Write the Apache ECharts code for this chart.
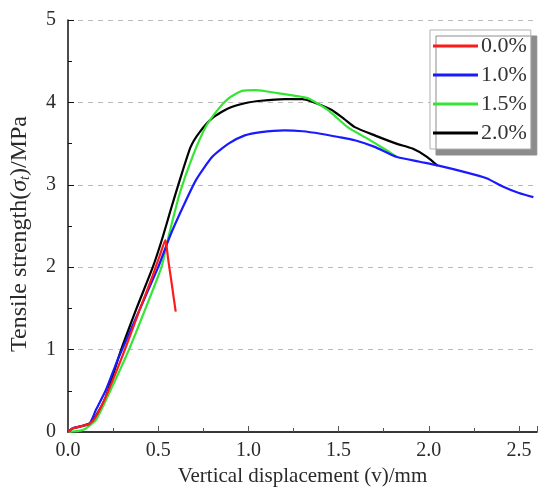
<!DOCTYPE html>
<html>
<head>
<meta charset="utf-8">
<script src="https://cdn.jsdelivr.net/npm/echarts@6/dist/echarts.min.js"></script>
<style>html,body{margin:0;padding:0;background:#fff}#c{width:540px;height:492px}</style>
</head>
<body>
<div id="c"></div>
<script>
var seriesNames = ['0.0%', '1.0%', '1.5%', '2.0%'];
var seriesColors = ['#ff1a1a', '#1a1aff', '#33e633', '#000000'];
var xTicks = [0, 0.5, 1.0, 1.5, 2.0, 2.5];
var yTicks = [0, 1, 2, 3, 4, 5];

var red = [[0,0],[0.027,0.045],[0.064,0.065],[0.119,0.10],[0.15,0.17],[0.21,0.43],[0.31,0.97],[0.40,1.5],[0.47,1.9],[0.51,2.15],[0.54,2.33],[0.555,2.1],[0.575,1.8],[0.597,1.46]];
var blue = [[0,0],[0.027,0.045],[0.064,0.065],[0.119,0.10],[0.155,0.27],[0.21,0.51],[0.274,0.87],[0.30,1.0],[0.40,1.5],[0.50,2.0],[0.564,2.37],[0.637,2.73],[0.71,3.06],[0.80,3.34],[0.89,3.50],[0.98,3.60],[1.07,3.64],[1.2,3.66],[1.3,3.65],[1.40,3.62],[1.5,3.58],[1.59,3.54],[1.70,3.46],[1.82,3.34],[1.95,3.28],[2.06,3.23],[2.19,3.16],[2.32,3.08],[2.41,2.98],[2.50,2.90],[2.58,2.85]];
var green = [[0,0],[0.04,0.01],[0.075,0.02],[0.10,0.045],[0.155,0.146],[0.228,0.47],[0.338,1.0],[0.43,1.5],[0.518,2.0],[0.555,2.35],[0.62,2.90],[0.69,3.34],[0.765,3.71],[0.83,3.91],[0.89,4.05],[0.965,4.14],[1.04,4.15],[1.17,4.11],[1.26,4.08],[1.33,4.05],[1.44,3.91],[1.55,3.70],[1.66,3.56],[1.75,3.44],[1.82,3.34]];
var black = [[0,0],[0.027,0.045],[0.064,0.065],[0.119,0.105],[0.146,0.166],[0.21,0.43],[0.29,0.97],[0.38,1.5],[0.47,2.0],[0.52,2.33],[0.57,2.7],[0.62,3.06],[0.68,3.46],[0.73,3.64],[0.80,3.81],[0.89,3.93],[0.98,3.99],[1.07,4.02],[1.2,4.04],[1.3,4.04],[1.35,4.01],[1.46,3.91],[1.53,3.80],[1.59,3.70],[1.70,3.60],[1.82,3.50],[1.91,3.44],[1.99,3.34],[2.05,3.23]];

var allData = [red, blue, green, black];
var font = "'Liberation Serif', 'Times New Roman', serif";
var txt = '#2a2a2a';

var chart = echarts.init(document.getElementById('c'), null, {renderer: 'canvas'});
var series = seriesNames.map(function (n, i) {
  return {
    name: n, type: 'line', data: allData[i], symbol: 'none', smooth: 0.2,
    lineStyle: {color: seriesColors[i], width: 2.2}, itemStyle: {color: seriesColors[i]},
    z: 10 - i
  };
});

chart.setOption({
  animation: false,
  backgroundColor: '#ffffff',
  textStyle: {fontFamily: font},
  grid: {left: 67, right: -2, top: 20, bottom: 60},
  legend: {
    data: seriesNames.map(function (n) { return {name: n, icon: 'rect'}; }),
    orient: 'vertical', left: 430, top: 30,
    itemWidth: 45, itemHeight: 3, itemGap: 7, padding: [5, 4, 5, 3],
    backgroundColor: '#ffffff', borderColor: '#b0b0b0', borderWidth: 1,
    shadowColor: '#8c8c8c', shadowBlur: 0, shadowOffsetX: 6, shadowOffsetY: 6,
    textStyle: {fontFamily: font, fontSize: 22, color: '#333', lineHeight: 22, padding: [0, 0, 0, -2]}
  },
  xAxis: [{
    type: 'value', min: 0, max: 2.6, interval: 0.5,
    name: 'Vertical displacement (v)/mm', nameLocation: 'middle', nameGap: 29,
    nameTextStyle: {fontFamily: font, fontSize: 21, color: txt},
    axisLine: {show: true, onZero: false, lineStyle: {color: '#555', width: 1.5}},
    axisTick: {show: true, inside: true, length: 6, lineStyle: {color: '#555'}},
    minorTick: {show: true, splitNumber: 2, length: 4, lineStyle: {color: '#555'}},
    axisLabel: {fontFamily: font, fontSize: 20, color: txt, margin: 9,
      formatter: function (v) { return xTicks.indexOf(v) >= 0 ? v.toFixed(1) : ''; }},
    splitLine: {show: false}
  }, {
    type: 'value', position: 'top', min: 0, max: 2.6,
    axisLine: {show: true, lineStyle: {color: '#222', width: 1.5}},
    axisTick: {show: false}, axisLabel: {show: false}, splitLine: {show: false}
  }],
  yAxis: {
    type: 'value', min: 0, max: 5, interval: 1,
    name: 'Tensile strength({s|σ}{sub|t})/MPa', nameLocation: 'middle', nameGap: 36,
    nameTextStyle: {fontFamily: font, fontSize: 24, color: txt, padding: [0, 16, 0, 0],
      rich: {
        s: {fontFamily: font, fontSize: 24, fontStyle: 'italic', color: txt},
        sub: {fontFamily: font, fontSize: 14, fontStyle: 'italic', color: txt, verticalAlign: 'bottom', padding: [10, 0, 0, 0]}
      }},
    axisLine: {show: true, lineStyle: {color: '#111', width: 1.5}},
    axisTick: {show: true, inside: true, length: 6, lineStyle: {color: '#111'}},
    minorTick: {show: true, splitNumber: 2, length: 4, lineStyle: {color: '#111'}},
    axisLabel: {fontFamily: font, fontSize: 20, color: txt, margin: 12,
      formatter: function (v) { return yTicks.indexOf(v) >= 0 ? String(v) : ''; }},
    splitLine: {show: true, lineStyle: {color: '#bbbbbb', type: [5, 5], width: 1}}
  },
  series: series
});
</script>
</body>
</html>
